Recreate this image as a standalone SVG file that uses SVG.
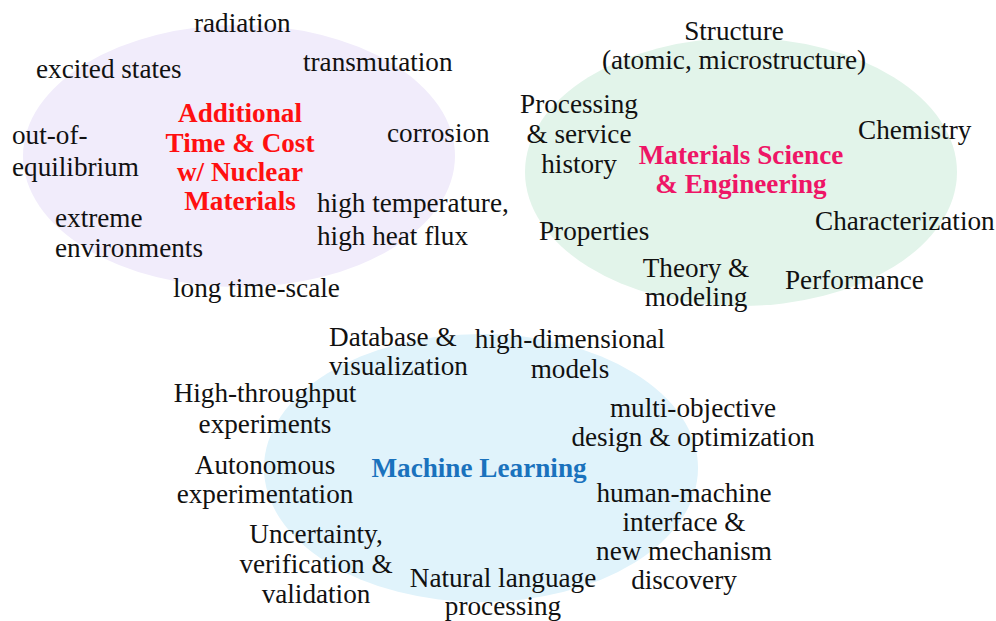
<svg xmlns="http://www.w3.org/2000/svg" width="996" height="621" viewBox="0 0 996 621">
  <style>
    text { font-family: "Liberation Serif", "Times New Roman", serif; font-size: 27.2px; fill: #111; }
    .c { text-anchor: middle; }
    .title { font-weight: bold; text-anchor: middle; }
    .nuc { fill: #ff1010; }
    .mse { fill: #ee1566; }
    .ml { fill: #1a72bd; }
  </style>
  <rect width="996" height="621" fill="#ffffff"/>

  <!-- Nuclear materials cluster -->
  <g id="nuclear" font-family="Liberation Serif, serif">
    <ellipse cx="239" cy="156" rx="216" ry="131" fill="#f1ecfb"/>
    <text class="title nuc" x="240" y="122">Additional</text>
    <text class="title nuc" x="240" y="152">Time &amp; Cost</text>
    <text class="title nuc" x="240" y="181">w/ Nuclear</text>
    <text class="title nuc" x="240" y="210">Materials</text>
    <text x="194" y="32">radiation</text>
    <text x="36" y="78">excited states</text>
    <text x="303" y="71">transmutation</text>
    <text x="12" y="144">out-of-</text>
    <text x="12" y="176">equilibrium</text>
    <text x="387" y="142">corrosion</text>
    <text x="55" y="227">extreme</text>
    <text x="55" y="257">environments</text>
    <text x="317" y="212">high temperature,</text>
    <text x="317" y="245">high heat flux</text>
    <text x="173" y="297">long time-scale</text>
  </g>

  <!-- Materials science & engineering cluster -->
  <g id="mse" font-family="Liberation Serif, serif">
    <ellipse cx="741" cy="172" rx="216" ry="134" fill="#e2f4ea"/>
    <text class="title mse" x="741" y="164">Materials Science</text>
    <text class="title mse" x="741" y="193">&amp; Engineering</text>
    <text class="c" x="734" y="40">Structure</text>
    <text class="c" x="734" y="69">(atomic, microstructure)</text>
    <text class="c" x="579" y="113">Processing</text>
    <text class="c" x="579" y="143">&amp; service</text>
    <text class="c" x="579" y="173">history</text>
    <text x="858" y="139">Chemistry</text>
    <text x="815" y="230">Characterization</text>
    <text x="539" y="240">Properties</text>
    <text class="c" x="696" y="277">Theory &amp;</text>
    <text class="c" x="696" y="306">modeling</text>
    <text x="785" y="289">Performance</text>
  </g>

  <!-- Machine learning cluster -->
  <g id="ml" font-family="Liberation Serif, serif">
    <ellipse cx="481" cy="468" rx="217" ry="134" fill="#e0f3fb"/>
    <text class="title ml" x="479" y="477">Machine Learning</text>
    <text x="329" y="346">Database &amp;</text>
    <text x="329" y="375">visualization</text>
    <text class="c" x="570" y="348">high-dimensional</text>
    <text class="c" x="570" y="378">models</text>
    <text class="c" x="265" y="402">High-throughput</text>
    <text class="c" x="265" y="433">experiments</text>
    <text class="c" x="693" y="417">multi-objective</text>
    <text class="c" x="693" y="446">design &amp; optimization</text>
    <text class="c" x="265" y="474">Autonomous</text>
    <text class="c" x="265" y="503">experimentation</text>
    <text class="c" x="684" y="502">human-machine</text>
    <text class="c" x="684" y="531">interface &amp;</text>
    <text class="c" x="684" y="560">new mechanism</text>
    <text class="c" x="684" y="589">discovery</text>
    <text class="c" x="316" y="543">Uncertainty,</text>
    <text class="c" x="316" y="573">verification &amp;</text>
    <text class="c" x="316" y="603">validation</text>
    <text class="c" x="503" y="587">Natural language</text>
    <text class="c" x="503" y="615">processing</text>
  </g>
</svg>
